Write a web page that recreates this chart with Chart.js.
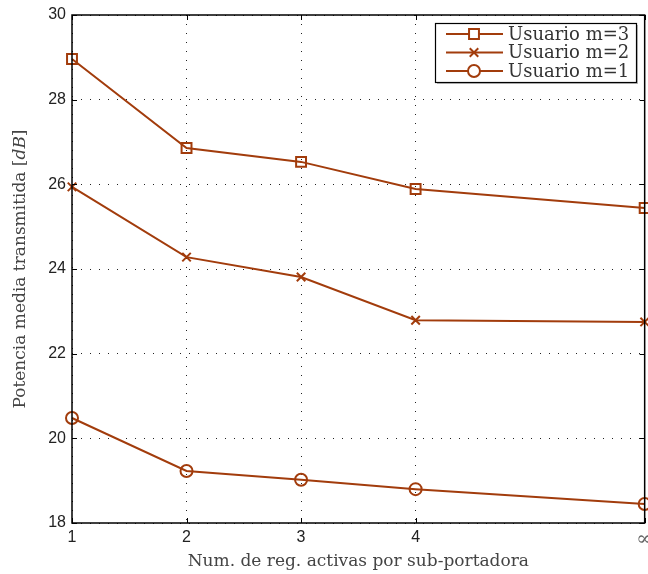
<!DOCTYPE html>
<html>
<head>
<meta charset="utf-8">
<script src="https://cdn.jsdelivr.net/npm/chart.js@4/dist/chart.umd.min.js"></script>
<style>
  html, body { margin: 0; padding: 0; background: #fff; overflow: hidden; }
  #wrap { width: 648px; height: 574px; overflow: hidden; }
  canvas { display: block; }
</style>
</head>
<body>
<div id="wrap"><canvas id="c" width="658" height="574"></canvas></div>
<script>
// Active registers per sub-carrier (6 stands for the "infinite" case)
const xValues = [1, 2, 3, 4, 6];
const xTickLabels = ['1', '2', '3', '4', '\u221E'];
const yTicks = [18, 20, 22, 24, 26, 28, 30];

// Mean transmitted power [dB] per user
const userM3 = [28.96, 26.86, 26.53, 25.89, 25.44];
const userM2 = [25.94, 24.28, 23.81, 22.79, 22.75];
const userM1 = [20.48, 19.23, 19.02, 18.80, 18.45];

const seriesNames = ['Usuario m=3', 'Usuario m=2', 'Usuario m=1'];
const yTitle = ['Potencia media transmitida ', '[', 'dB', ']'];

const lineColor = '#a23c0c';
const serif = '"DejaVu Serif", "Liberation Serif", serif';
const sans = '"Liberation Sans", Arial, sans-serif';

function pts(vals) { return vals.map((v, i) => ({ x: xValues[i], y: v })); }

function ds(label, vals, style, radius) {
  return {
    label, data: pts(vals),
    borderColor: lineColor, backgroundColor: 'rgba(0,0,0,0)',
    borderWidth: 2, pointStyle: style, pointRadius: radius,
    pointBorderWidth: 2, pointBorderColor: lineColor,
    pointBackgroundColor: 'rgba(0,0,0,0)', tension: 0, fill: false
  };
}

// Frame around plot area with inward tick marks, plus the vertical title
const framePlugin = {
  id: 'frame',
  afterDraw(chart) {
    const { ctx, chartArea: a, scales } = chart;
    ctx.save();
    ctx.strokeStyle = '#000';
    ctx.lineWidth = 1.5;
    ctx.strokeRect(a.left, a.top, a.right - a.left, a.bottom - a.top);
    ctx.lineWidth = 1;
    ctx.beginPath();
    xValues.forEach(v => {
      const px = Math.round(scales.x.getPixelForValue(v)) + 0.5;
      ctx.moveTo(px, a.bottom); ctx.lineTo(px, a.bottom - 5);
      ctx.moveTo(px, a.top); ctx.lineTo(px, a.top + 5);
    });
    yTicks.forEach(v => {
      const py = Math.round(scales.y.getPixelForValue(v)) + 0.5;
      ctx.moveTo(a.left, py); ctx.lineTo(a.left + 5, py);
      ctx.moveTo(a.right, py); ctx.lineTo(a.right - 5, py);
    });
    ctx.stroke();

    // vertical axis title, with the unit in italics
    ctx.translate(21, (a.top + a.bottom) / 2);
    ctx.rotate(-Math.PI / 2);
    ctx.fillStyle = '#444';
    ctx.textBaseline = 'middle';
    const fonts = ['17px ' + serif, '17px ' + serif, 'italic 17px ' + serif, '17px ' + serif];
    let total = 0;
    yTitle.forEach((t, i) => { ctx.font = fonts[i]; total += ctx.measureText(t).width; });
    let x = -total / 2;
    yTitle.forEach((t, i) => {
      ctx.font = fonts[i];
      ctx.fillText(t, x, 0);
      x += ctx.measureText(t).width;
    });
    ctx.restore();
  }
};

// Boxed legend in the upper right corner
const boxLegend = {
  id: 'boxLegend',
  afterDraw(chart) {
    const { ctx } = chart;
    const left = 435, top = 23, w = 201, h = 59;
    ctx.save();
    ctx.fillStyle = '#bbb';
    ctx.fillRect(left + 2, top + 2, w, h);
    ctx.fillStyle = '#fff';
    ctx.fillRect(left, top, w, h);
    ctx.strokeStyle = '#000';
    ctx.lineWidth = 1.2;
    ctx.strokeRect(left + 0.5, top + 0.5, w, h);
    ctx.font = '18px ' + serif;
    ctx.textBaseline = 'middle';
    chart.data.datasets.forEach((d, i) => {
      const cy = top + 11 + i * 18.5;
      ctx.strokeStyle = lineColor;
      ctx.lineWidth = 2;
      ctx.beginPath();
      ctx.moveTo(left + 11, cy); ctx.lineTo(left + 68, cy);
      ctx.stroke();
      ctx.fillStyle = '#fff';
      Chart.helpers.drawPoint(ctx, {
        pointStyle: d.pointStyle, radius: d.pointRadius, borderWidth: 2
      }, left + 39, cy);
      ctx.fillStyle = '#333';
      ctx.fillText(d.label, left + 73, cy + 1);
    });
    ctx.restore();
  }
};

new Chart(document.getElementById('c'), {
  type: 'line',
  data: {
    datasets: [
      ds(seriesNames[0], userM3, 'rect', 7),
      ds(seriesNames[1], userM2, 'crossRot', 6),
      ds(seriesNames[2], userM1, 'circle', 6)
    ]
  },
  options: {
    responsive: false,
    animation: false,
    clip: false,
    layout: { padding: { top: 15, right: 0, left: 0, bottom: 0 } },
    plugins: { legend: { display: false }, tooltip: { enabled: false } },
    scales: {
      x: {
        type: 'linear', min: 1, max: 6,
        afterBuildTicks(s) { s.ticks = xValues.map(v => ({ value: v })); },
        afterFit(s) { s.height = 51; },
        ticks: {
          callback(v) { const i = xValues.indexOf(v); return i >= 0 ? xTickLabels[i] : ''; },
          font: c => (c.index === 4 ? { family: serif, size: 20 } : { family: sans, size: 16 }),
          color: c => (c.index === 4 ? '#666' : '#222'),
          padding: 5, maxRotation: 0
        },
        grid: { color: '#222', lineWidth: 1, drawTicks: false, tickLength: 0 },
        border: { display: false, dash: [1, 8] },
        title: {
          display: true, text: 'Num. de reg. activas por sub-portadora',
          font: { family: serif, size: 17 }, color: '#444', padding: { top: 0, bottom: 2 }
        }
      },
      y: {
        min: 18, max: 30,
        afterBuildTicks(s) { s.ticks = yTicks.map(v => ({ value: v })); },
        afterFit(s) { s.width = 72; s.paddingTop = 0; s.paddingBottom = 0; },
        ticks: { font: { family: sans, size: 16 }, color: '#222', padding: 6 },
        grid: { color: '#222', lineWidth: 1, drawTicks: false, tickLength: 0 },
        border: { display: false, dash: [1, 8] },
        title: { display: false }
      }
    }
  },
  plugins: [framePlugin, boxLegend]
});
</script>
</body>
</html>
